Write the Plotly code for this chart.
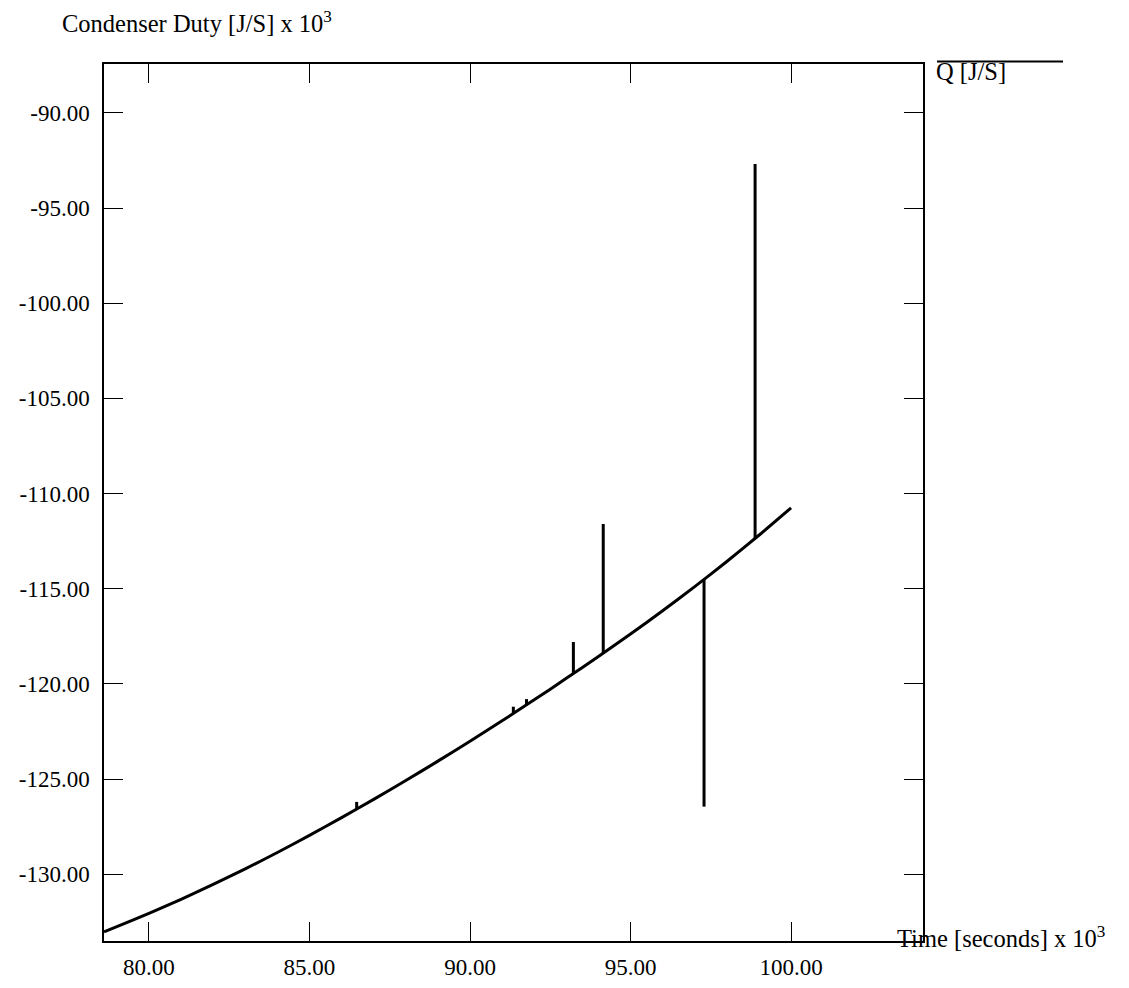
import plotly.graph_objects as go

# ---- data ----
curve_x = [78.6, 79, 80, 81, 82, 83, 84, 85, 86, 87, 88, 89, 90, 91, 92, 93, 94, 95, 96, 97, 98, 99, 100]
curve_y = [-133.03, -132.76, -132.06, -131.32, -130.54, -129.72, -128.86, -127.96, -127.03, -126.07,
           -125.08, -124.06, -123.01, -121.94, -120.84, -119.71, -118.56, -117.38, -116.16, -114.89,
           -113.57, -112.19, -110.75]

spike_x = [86.47, 91.35, 91.76, 93.22, 94.15, 97.29, 98.88]
spike_base = [-126.58, -121.56, -121.1, -119.46, -118.38, -114.51, -112.36]
spike_tip = [-126.2, -121.2, -120.8, -117.8, -111.6, -126.45, -92.68]

x_ticks = [80, 85, 90, 95, 100]
x_tick_text = ["80.00", "85.00", "90.00", "95.00", "100.00"]
y_ticks = [-90, -95, -100, -105, -110, -115, -120, -125, -130]
y_tick_text = ["-90.00", "-95.00", "-100.00", "-105.00", "-110.00", "-115.00", "-120.00", "-125.00", "-130.00"]

# spikes as vertical segments separated by gaps
sp_x, sp_y = [], []
for sx, sb, st in zip(spike_x, spike_base, spike_tip):
    sp_x += [sx, sx, None]
    sp_y += [sb, st, None]

# ---- layout geometry (page pixels; the page body adds an 8px margin) ----
OFF = 8
W, H = 1129 - OFF, 988 - OFF
L, R, T, B = 104, 923, 64, 941          # plot area in page coordinates
pw, ph = R - L, B - T

def px(xp):
    return (xp - L) / pw

def py(yp):
    return (B - yp) / ph

FONT = "Liberation Serif"
fs = 23
fs_title = 24.5

fig = go.Figure()
fig.add_trace(go.Scatter(x=curve_x, y=curve_y, mode="lines", name="Q [J/S]",
                         line=dict(color="black", width=3, shape="spline", smoothing=0.6),
                         showlegend=False))
fig.add_trace(go.Scatter(x=sp_x, y=sp_y, mode="lines", name="Q [J/S]",
                         line=dict(color="black", width=3), showlegend=False))

axis_common = dict(showgrid=False, zeroline=False, showline=True, linecolor="black",
                   linewidth=1.5, mirror="ticks", ticks="inside", ticklen=19,
                   tickwidth=1, tickcolor="black", automargin=False,
                   tickfont=dict(family=FONT, size=fs, color="black"))

fig.update_layout(
    width=W, height=H,
    margin=dict(l=L - OFF, r=1129 - R, t=T - OFF, b=988 - B, pad=0),
    paper_bgcolor="white", plot_bgcolor="white",
    xaxis=dict(range=[78.6, 104.11], tickvals=x_ticks, ticktext=x_tick_text,
               ticklabelstandoff=5, **axis_common),
    yaxis=dict(range=[-133.51, -87.43], tickvals=y_ticks, ticktext=y_tick_text,
               ticklabelstandoff=8, **axis_common),
    annotations=[
        dict(text="Condenser Duty [J/S] x 10<sup>3</sup>", x=px(60), y=py(22), xref="paper", yref="paper",
             xanchor="left", yanchor="middle", showarrow=False,
             font=dict(family=FONT, size=fs_title, color="black")),
        dict(text="Time [seconds] x 10<sup>3</sup>", x=px(895), y=py(937), xref="paper", yref="paper",
             xanchor="left", yanchor="middle", showarrow=False,
             font=dict(family=FONT, size=fs_title, color="black")),
        dict(text="Q [J/S]", x=px(934), y=py(72), xref="paper", yref="paper",
             xanchor="left", yanchor="middle", showarrow=False,
             font=dict(family=FONT, size=fs_title, color="black")),
    ],
    shapes=[
        dict(type="line", xref="paper", yref="paper", x0=px(937), x1=px(1063), y0=py(61.5), y1=py(61.5),
             line=dict(color="black", width=2)),
    ],
)

fig.write_html("out.html")
